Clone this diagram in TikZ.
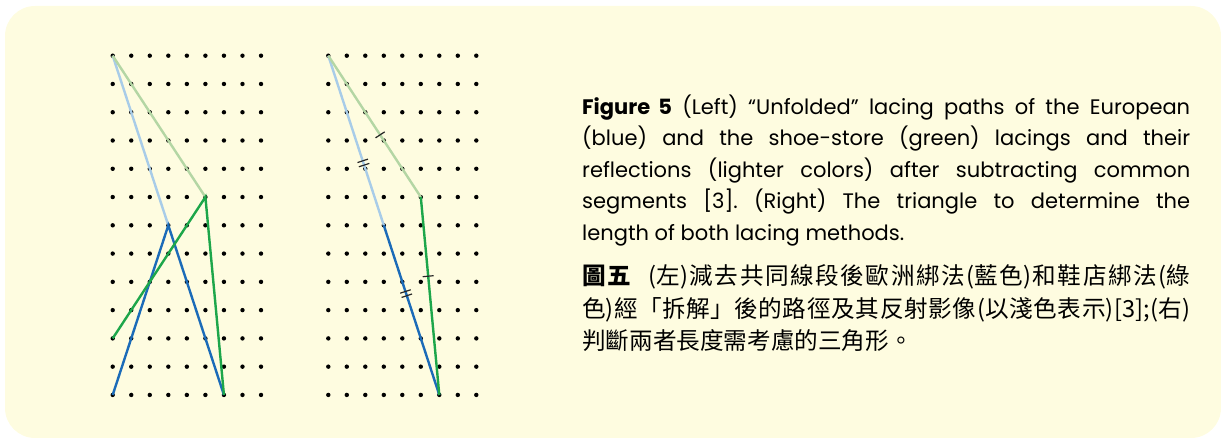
\documentclass[tikz,border=0pt]{standalone}
\usepackage{fontspec}
\newfontfamily\capfont{Poppins}
\newfontfamily\cjkfont{Noto Sans CJK TC}
\definecolor{bgyellow}{HTML}{FEFCE0}
\definecolor{laceblue}{HTML}{1B6BB8}
\definecolor{lightblue}{HTML}{A8CCE8}
\definecolor{lacegreen}{HTML}{1DA64A}
\definecolor{lightgreen}{HTML}{B4D6A4}
\tikzset{
  hole/.style={circle,fill=black,minimum size=4.4pt,inner sep=0pt},
  lace/.style={line width=2.4pt},
  tick/.style={draw=black!85,line width=1.2pt,minimum width=0pt,minimum height=11pt,inner sep=0pt,sloped},
  caption/.style={anchor=north west,inner sep=0pt,text width=608pt,align=justify}
}

\begin{document}
\begin{tikzpicture}[x=1pt,y=-1pt]
      \useasboundingbox (0,0) rectangle (1221,438);
      \fill[bgyellow,rounded corners=30pt] (5,6) rectangle (1221,438);

      \foreach \i in {0,...,8}
        \foreach \j in {0,...,12} {
          \node[hole] (L-\i-\j) at ({112.7+18.54*\i},{55.7+28.27*\j}) {};
          \node[hole] (R-\i-\j) at ({328.3+18.5*\i},{55.7+28.27*\j}) {};
        }

      \draw[lace,lightblue] (L-0-0.center) -- (L-3-6.center);
      \draw[lace,lightgreen] (L-0-0.center) -- (L-5-5.center);
      \draw[lace,laceblue] (L-0-12.center) -- (L-3-6.center) -- (L-6-12.center);
      \draw[lace,lacegreen] (L-0-10.center) -- (L-5-5.center) -- (L-6-12.center);

      \draw[lace,lightblue] (R-0-0.center) -- node[tick,pos=0.62]{} node[tick,pos=0.645]{} (R-3-6.center);
      \draw[lace,lightgreen] (R-0-0.center) -- node[tick,pos=0.56]{} (R-5-5.center);
      \draw[lace,laceblue] (R-3-6.center) -- node[tick,pos=0.39]{} node[tick,pos=0.415]{} (R-6-12.center);
      \draw[lace,lacegreen] (R-5-5.center) -- node[tick,pos=0.4]{} (R-6-12.center);

      \node[caption,font={\capfont\fontsize{21}{31.5}\selectfont\frenchspacing}] (capEN) at (582,92) {\strut
        \textbf{Figure 5} (Left) “Unfolded” lacing paths of the European\linebreak
        (blue) and the shoe-store (green) lacings and their\linebreak
        reflections (lighter colors) after subtracting common\linebreak
        segments [3]. (Right) The triangle to determine the\linebreak
        length of both lacing methods.};
      \node[caption,font={\cjkfont\fontsize{23.6}{32.5}\selectfont\XeTeXlinebreaklocale "zh"\XeTeXlinebreakskip=0pt plus 2pt minus 1pt}] (capZH) at (582,262) {\strut
        \textbf{圖五}\hspace{0.75em}(左)減去共同線段後歐洲綁法(藍色)和鞋店綁法(綠\linebreak
        色)經「拆解」後的路徑及其反射影像(以淺色表示)[3];(右)\linebreak
        判斷兩者長度需考慮的三角形。};
    \end{tikzpicture}
\end{document}
